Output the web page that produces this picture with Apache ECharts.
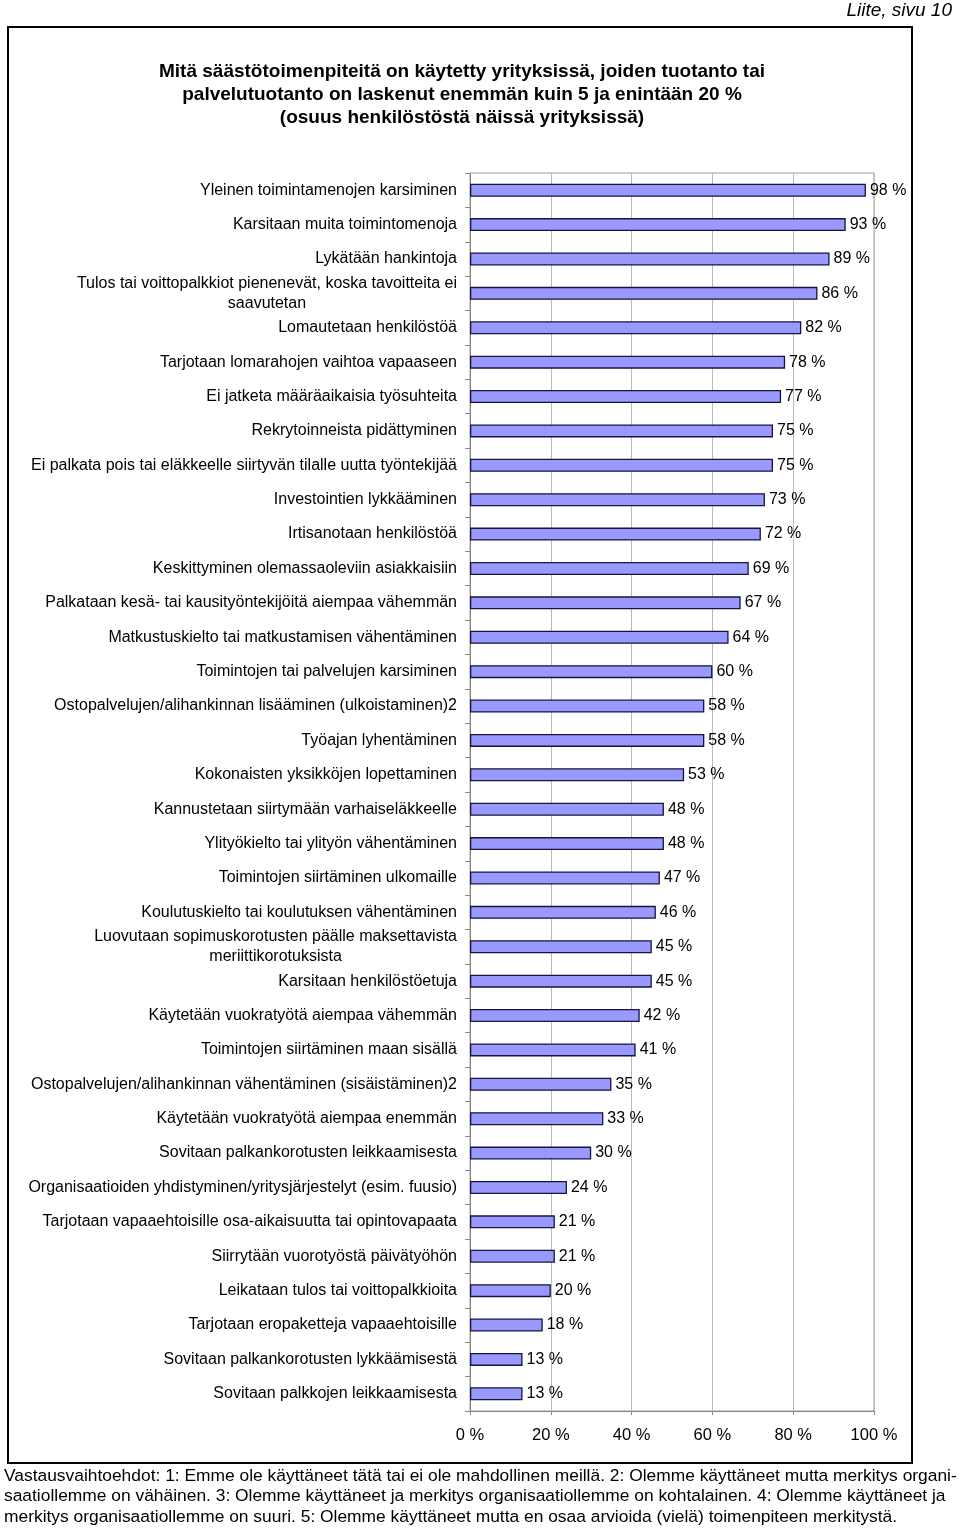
<!DOCTYPE html>
<html>
<head>
<meta charset="utf-8">
<script src="https://cdn.jsdelivr.net/npm/echarts@6/dist/echarts.min.js"></script>
<style>
html,body{margin:0;padding:0;background:#fff;}
#c{width:960px;height:1529px;}
</style>
</head>
<body>
<div id="c"></div>
<script>
const categories = [
  "Yleinen toimintamenojen karsiminen",
  "Karsitaan muita toimintomenoja",
  "Lykätään hankintoja",
  "Tulos tai voittopalkkiot pienenevät, koska tavoitteita ei\nsaavutetan",
  "Lomautetaan henkilöstöä",
  "Tarjotaan lomarahojen vaihtoa vapaaseen",
  "Ei jatketa määräaikaisia työsuhteita",
  "Rekrytoinneista pidättyminen",
  "Ei palkata pois tai eläkkeelle siirtyvän tilalle uutta työntekijää",
  "Investointien lykkääminen",
  "Irtisanotaan henkilöstöä",
  "Keskittyminen olemassaoleviin asiakkaisiin",
  "Palkataan kesä- tai kausityöntekijöitä aiempaa vähemmän",
  "Matkustuskielto tai matkustamisen vähentäminen",
  "Toimintojen tai palvelujen karsiminen",
  "Ostopalvelujen/alihankinnan lisääminen (ulkoistaminen)2",
  "Työajan lyhentäminen",
  "Kokonaisten yksikköjen lopettaminen",
  "Kannustetaan siirtymään varhaiseläkkeelle",
  "Ylityökielto tai ylityön vähentäminen",
  "Toimintojen siirtäminen ulkomaille",
  "Koulutuskielto tai koulutuksen vähentäminen",
  "Luovutaan sopimuskorotusten päälle maksettavista\nmeriittikorotuksista",
  "Karsitaan henkilöstöetuja",
  "Käytetään vuokratyötä aiempaa vähemmän",
  "Toimintojen siirtäminen maan sisällä",
  "Ostopalvelujen/alihankinnan vähentäminen (sisäistäminen)2",
  "Käytetään vuokratyötä aiempaa enemmän",
  "Sovitaan palkankorotusten leikkaamisesta",
  "Organisaatioiden yhdistyminen/yritysjärjestelyt (esim. fuusio)",
  "Tarjotaan vapaaehtoisille osa-aikaisuutta tai opintovapaata",
  "Siirrytään vuorotyöstä päivätyöhön",
  "Leikataan tulos tai voittopalkkioita",
  "Tarjotaan eropaketteja vapaaehtoisille",
  "Sovitaan palkankorotusten lykkäämisestä",
  "Sovitaan palkkojen leikkaamisesta"
];
const values = [98,93,89,86,82,78,77,75,75,73,72,69,67,64,60,58,58,53,48,48,47,46,45,45,42,41,35,33,30,24,21,21,20,18,13,13];
const xTicks = [0,20,40,60,80,100];
const titleLines = [
  "Mitä säästötoimenpiteitä on käytetty yrityksissä, joiden tuotanto tai",
  "palvelutuotanto on laskenut enemmän kuin 5 ja enintään 20 %",
  "(osuus henkilöstöstä näissä yrityksissä)"
];
const pageLabel = "Liite, sivu 10";
const footerLines = [
  "Vastausvaihtoehdot: 1: Emme ole käyttäneet tätä tai ei ole mahdollinen meillä. 2: Olemme käyttäneet mutta merkitys organi-",
  "saatiollemme on vähäinen. 3: Olemme käyttäneet ja merkitys organisaatiollemme on kohtalainen. 4: Olemme käyttäneet ja",
  "merkitys organisaatiollemme on suuri. 5: Olemme käyttäneet mutta en osaa arvioida (vielä) toimenpiteen merkitystä."
];

const FONT = "'Liberation Sans', Arial, Helvetica, sans-serif";
const chart = echarts.init(document.getElementById('c'), null, {renderer:'canvas'});

const graphics = [
  {type:'rect', shape:{x:8, y:27, width:904, height:1436}, style:{fill:'none', stroke:'#000', lineWidth:2}, z:0},
  {type:'text', x:952, y:11, style:{text:pageLabel, font:"italic 19px " + FONT, fill:'#000', textAlign:'right', textVerticalAlign:'middle'}}
];
titleLines.forEach((t,i)=>{
  graphics.push({type:'text', x:462, y:72 + i*23, style:{text:t, font:"bold 19px " + FONT, fill:'#000', textAlign:'center', textVerticalAlign:'middle'}});
});
footerLines.forEach((t,i)=>{
  graphics.push({type:'text', x:4, y:1476 + i*20.5, style:{text:t, font:"17.4px " + FONT, fill:'#000', textAlign:'left', textVerticalAlign:'middle'}});
});

chart.setOption({
  animation:false,
  backgroundColor:'#fff',
  grid:{left:470, right:86, top:173, height:1238, show:true, borderColor:'#999', borderWidth:1, backgroundColor:'transparent', containLabel:false},
  xAxis:{
    type:'value', min:0, max:100, interval:20,
    axisLine:{show:true, lineStyle:{color:'#888'}},
    axisTick:{show:true, length:4, lineStyle:{color:'#888'}},
    splitLine:{show:true, lineStyle:{color:'#bbb'}},
    axisLabel:{formatter:v=>v+' %', fontSize:16.5, fontFamily:FONT, color:'#000', margin:16}
  },
  yAxis:{
    type:'category', data:categories, inverse:true,
    axisLine:{show:true, lineStyle:{color:'#888'}},
    axisTick:{show:true, length:5, lineStyle:{color:'#888'}},
    axisLabel:{
      fontSize:16, fontFamily:FONT, color:'#000', margin:13, lineHeight:20,
      formatter:v=>v.split('\n').map(s=>'{c|'+s+'}').join('\n'),
      rich:{c:{align:'center', fontSize:16, fontFamily:FONT, color:'#000', lineHeight:20}}
    }
  },
  series:[{
    type:'bar', data:values, barWidth:13,
    itemStyle:{color:'#9999FF', borderColor:'#14143c', borderWidth:1.3},
    label:{show:true, position:'right', distance:4, formatter:p=>p.value+' %', fontSize:16, fontFamily:FONT, color:'#000'}
  }],
  graphic:graphics
});
</script>
</body>
</html>
